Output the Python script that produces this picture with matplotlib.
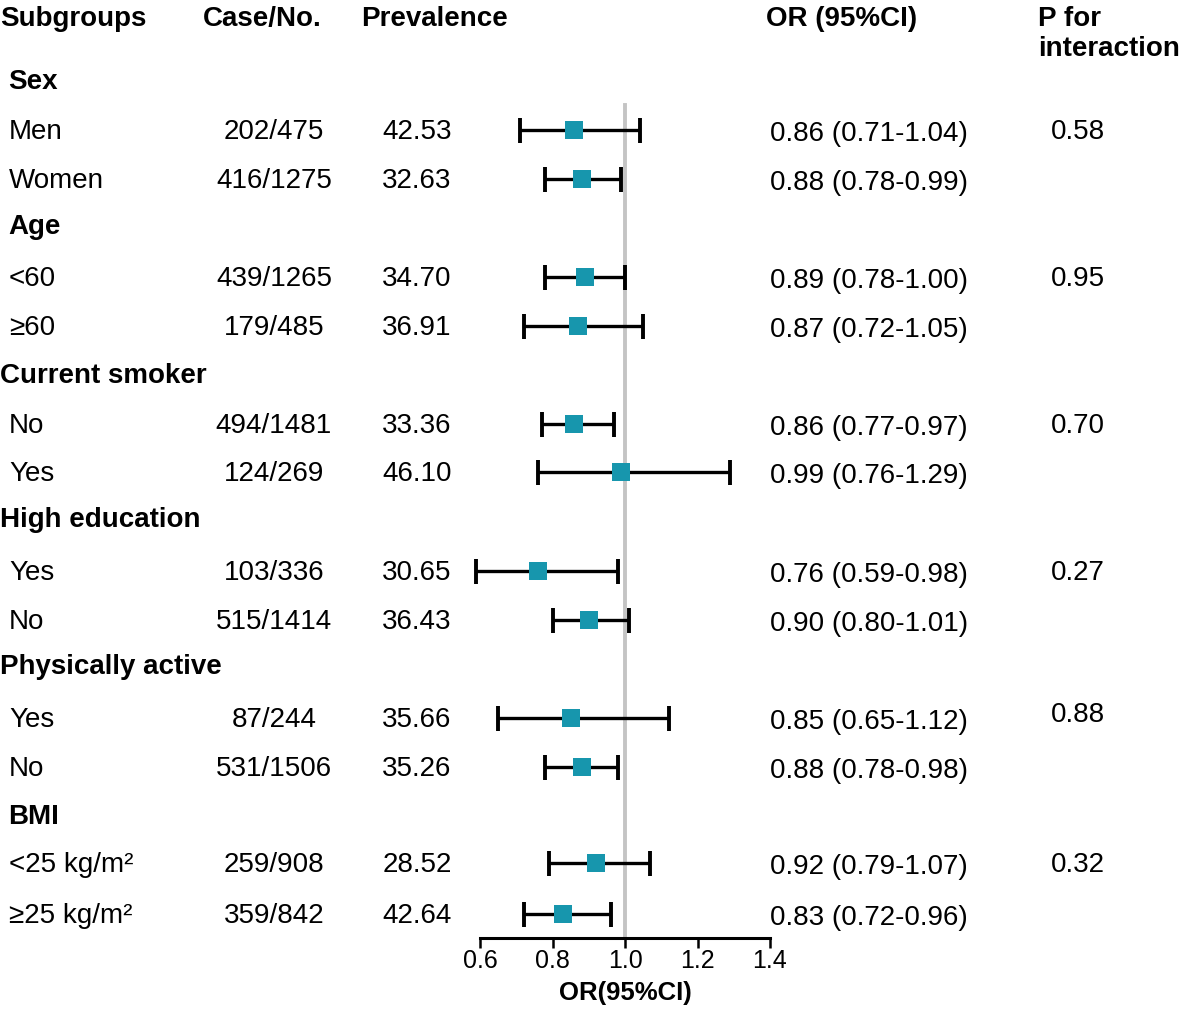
import matplotlib.pyplot as plt
import matplotlib.transforms as mtransforms
import numpy as np

plt.rcParams['font.family'] = ['Liberation Sans', 'DejaVu Sans']

# group headers and rows (y in pixel-like row units, top = 0)
groups = ["Sex", "Age", "Current smoker", "High education", "Physically active", "BMI"]
group_y = [80, 225, 374, 518, 665, 815]
group_x = [8, 8, 0, 0, 0, 8]

labels = ["Men", "Women", "<60", "≥60", "No", "Yes", "Yes", "No", "Yes", "No",
          "<25 kg/m²", "≥25 kg/m²"]
cases = ["202/475", "416/1275", "439/1265", "179/485", "494/1481", "124/269",
         "103/336", "515/1414", "87/244", "531/1506", "259/908", "359/842"]
prev = ["42.53", "32.63", "34.70", "36.91", "33.36", "46.10",
        "30.65", "36.43", "35.66", "35.26", "28.52", "42.64"]
orv = np.array([0.86, 0.88, 0.89, 0.87, 0.86, 0.99, 0.76, 0.90, 0.85, 0.88, 0.92, 0.83])
lo = np.array([0.71, 0.78, 0.78, 0.72, 0.77, 0.76, 0.59, 0.80, 0.65, 0.78, 0.79, 0.72])
hi = np.array([1.04, 0.99, 1.00, 1.05, 0.97, 1.29, 0.98, 1.01, 1.12, 0.98, 1.07, 0.96])
row_y = np.array([130, 179, 277, 326, 424, 472, 571, 620, 718, 767, 863, 914])

pvals = ["0.58", "0.95", "0.70", "0.27", "0.88", "0.32"]
p_y = [130, 277, 424, 571, 713, 863]

W, H = 1181, 1016
fig = plt.figure(figsize=(W / 100, H / 100), dpi=100)
axis_y = 938
ax = fig.add_axes([480 / W, (H - axis_y) / H, 290 / W, axis_y / H])
ax.set_xlim(0.6, 1.4)
ax.set_ylim(axis_y, 0)

ax.plot([1.0, 1.0], [105, axis_y], color='#c4c4c4', lw=2.8, zorder=1)
eb = ax.errorbar(orv, row_y, xerr=[orv - lo, hi - orv], fmt='none', ecolor='black',
                 elinewidth=2.4, capsize=9, capthick=2.8, zorder=2)
for art in eb.lines[1] + eb.lines[2]:
    art.set_clip_on(False)
ax.scatter(orv, row_y, marker='s', s=150, color='#1796ad', zorder=3, linewidths=0)

for s in ['top', 'right', 'left']:
    ax.spines[s].set_visible(False)
ax.spines['bottom'].set_linewidth(2.2)
ax.set_yticks([])
ax.set_xticks([0.6, 0.8, 1.0, 1.2, 1.4])
ax.set_xticklabels(["0.6", "0.8", "1.0", "1.2", "1.4"])
ax.tick_params(axis='x', direction='out', length=7, width=1.8, labelsize=18, pad=1)
ax.set_xlabel("OR(95%CI)", fontsize=18.5, fontweight='bold', labelpad=6)

# blended transform: x in figure pixels, y in data rows
pix = mtransforms.blended_transform_factory(
    mtransforms.Affine2D().scale(1 / W, 1) + fig.transFigure, ax.transData)
kw = dict(transform=pix, clip_on=False, va='center', fontsize=20)
hd = dict(transform=pix, clip_on=False, va='center', fontsize=20, fontweight='bold')
dy = 2  # text sits a touch lower than the marks

ax.text(0, 17 + dy, "Subgroups", ha='left', **hd)
ax.text(203, 17 + dy, "Case/No.", ha='left', **hd)
ax.text(361, 17 + dy, "Prevalence", ha='left', **hd)
ax.text(766, 17 + dy, "OR (95%CI)", ha='left', **hd)
ax.text(1038, 17 + dy, "P for", ha='left', **hd)
ax.text(1038, 47 + dy, "interaction", ha='left', **hd)

for g, gy, gx in zip(groups, group_y, group_x):
    ax.text(gx, gy + dy, g, ha='left', **hd)

for i in range(len(labels)):
    y = row_y[i] + dy
    ax.text(9, y, labels[i], ha='left', **kw)
    ax.text(274, y, cases[i], ha='center', **kw)
    ax.text(417, y, prev[i], ha='center', **kw)
    ax.text(770, y + 2, "%.2f (%.2f-%.2f)" % (orv[i], lo[i], hi[i]), ha='left', **kw)

for p, py in zip(pvals, p_y):
    ax.text(1078, py + dy, p, ha='center', **kw)

plt.savefig("out.png", dpi=100)
